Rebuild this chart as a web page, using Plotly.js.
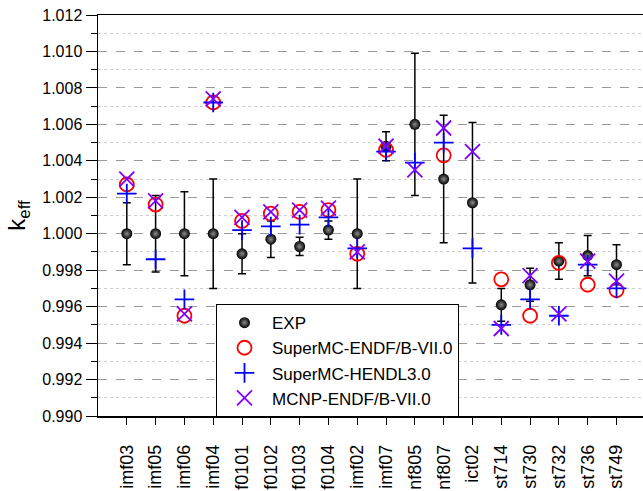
<!DOCTYPE html>
<html><head><meta charset="utf-8">
<script src="https://cdn.plot.ly/plotly-3.0.1.min.js"></script>
<style>html,body{margin:0;padding:0;background:#fff;}#chart{width:643px;height:491px;}</style>
</head><body><div id="chart"></div>
<script>
var categories = ["imf03","imf05","imf06","imf04","f0101","f0102","f0103","f0104","imf02","imf07","nf805","nf807","ict02","st714","st730","st732","st736","st749"];
var expValues = [1.0000,1.0000,1.0000,1.0000,0.9989,0.9997,0.9993,1.0002,1.0000,1.0048,1.0060,1.0030,1.0017,0.9961,0.9972,0.9985,0.9988,0.9983];
var expErrors = [0.0017,0.0021,0.0023,0.0030,0.0011,0.0010,0.0005,0.0005,0.0030,0.0008,0.0039,0.0035,0.0044,0.0009,0.0009,0.0010,0.0011,0.0011];
var superMcEndf = [1.0027,1.0016,0.9955,1.0072,1.0007,1.0011,1.0012,1.0013,0.9989,1.0046,null,1.0043,null,0.9975,0.9955,0.9984,0.9972,0.9969];
var superMcHendl = [1.0022,0.9986,0.9964,1.0072,1.0002,1.0004,1.0005,1.0009,0.9992,1.0045,1.0039,1.0050,0.9992,0.9950,0.9964,0.9955,0.9983,0.9970];
var mcnpEndf = [1.0030,1.0018,0.9956,1.0074,1.0009,1.0012,1.0013,1.0014,0.9990,1.0048,1.0035,1.0058,1.0045,0.9948,0.9977,0.9956,0.9985,0.9974];
var yTickVals = [0.990,0.992,0.994,0.996,0.998,1.000,1.002,1.004,1.006,1.008,1.010,1.012];

var font = "Liberation Sans, Arial, Helvetica, sans-serif";
var traces = [
  {x: categories, y: expValues, name: "EXP", type: "scatter", mode: "markers",
   error_y: {type: "data", array: expErrors, visible: true, color: "#000", thickness: 1.5, width: 4},
   marker: {symbol: "circle", size: 11, color: "#000", gradient: {type: "radial", color: "#8c8c8c"}, line: {width: 0}}},
  {x: categories, y: superMcEndf, name: "SuperMC-ENDF/B-VII.0", type: "scatter", mode: "markers",
   marker: {symbol: "circle-open", size: 14, color: "#ff0000", line: {width: 1.8, color: "#ff0000"}}},
  {x: categories, y: superMcHendl, name: "SuperMC-HENDL3.0", type: "scatter", mode: "markers",
   marker: {symbol: "cross-thin-open", size: 14, color: "#0000ff", line: {width: 1.8, color: "#0000ff"}}},
  {x: categories, y: mcnpEndf, name: "MCNP-ENDF/B-VII.0", type: "scatter", mode: "markers",
   marker: {symbol: "x-thin-open", size: 15, color: "#8000ff", line: {width: 1.8, color: "#8000ff"}}}
];

var layout = {
  width: 643, height: 491,
  margin: {l: 98, r: 0, t: 15, b: 75},
  paper_bgcolor: "#fff", plot_bgcolor: "#fff",
  font: {family: font, size: 16, color: "#000"},
  showlegend: true,
  legend: {x: 0.2165, y: 0.279, xanchor: "left", yanchor: "top", bgcolor: "#fff",
    bordercolor: "#000", borderwidth: 1, font: {family: font, size: 17, color: "#000"},
    itemwidth: 45, tracegroupgap: 0},
  xaxis: {type: "category", range: [-1, 17.92], showline: true, linecolor: "#000", linewidth: 1.5,
    mirror: true, ticks: "outside", ticklen: 7, tickcolor: "#000", tickwidth: 1, tickangle: -90,
    ticklabelstandoff: 13, automargin: false,
    showgrid: false, zeroline: false, tickfont: {family: font, size: 18, color: "#000"}},
  xaxis2: {overlaying: "x", anchor: "y", range: [-1, 17.92], showline: false, showgrid: false, zeroline: false,
    tickmode: "linear", tick0: -0.5, dtick: 1, ticks: "outside", ticklen: 4, tickcolor: "#000",
    showticklabels: false},
  yaxis: {range: [0.990, 1.012], showline: true, linecolor: "#000", linewidth: 1.5, mirror: true,
    ticks: "outside", ticklen: 11, tickcolor: "#000", tickwidth: 1, automargin: false,
    tickmode: "array", tickvals: yTickVals, tickformat: ".3f",
    tickfont: {family: font, size: 16, color: "#000"},
    showgrid: true, gridcolor: "#999", griddash: "dash", gridwidth: 1, zeroline: false,
    minor: {tickmode: "linear", tick0: 0.991, dtick: 0.002, ticks: "outside", ticklen: 6, tickcolor: "#000",
      showgrid: true, gridcolor: "#cfcfcf", griddash: "dot", gridwidth: 1},
    title: {text: "k<sub>eff</sub>", font: {family: font, size: 24, color: "#000"}, standoff: 10}}
};
Plotly.newPlot("chart", traces, layout, {displayModeBar: false, staticPlot: true});
</script></body></html>
